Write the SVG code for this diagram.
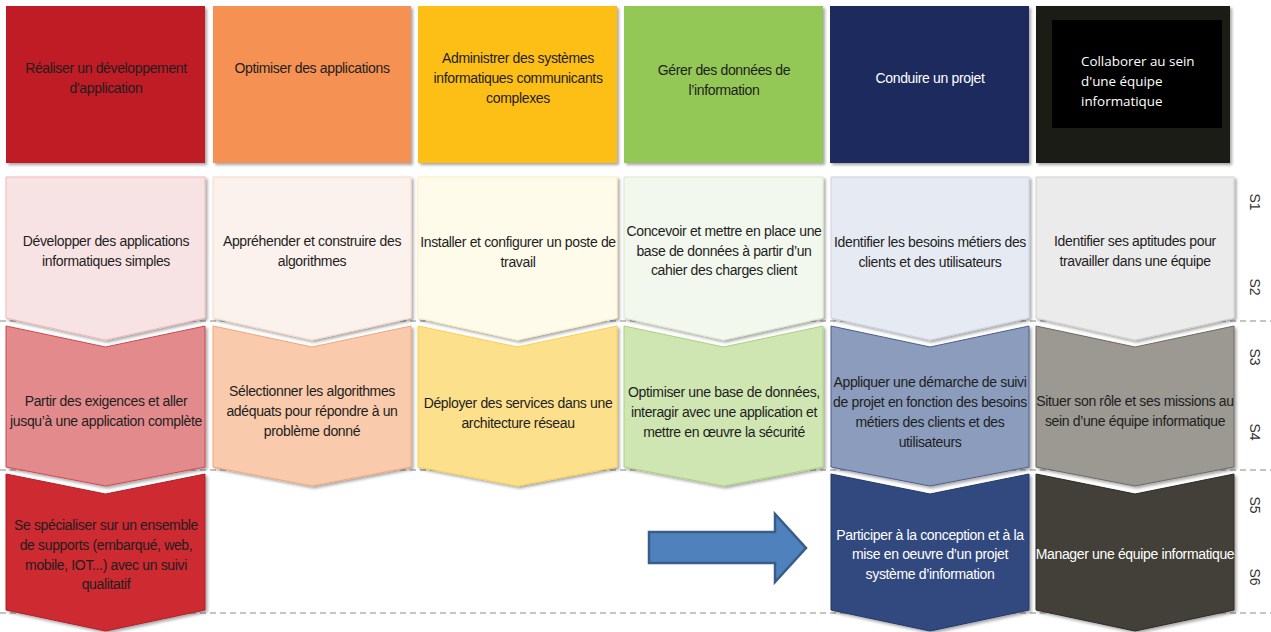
<svg xmlns="http://www.w3.org/2000/svg" width="1271" height="632" viewBox="0 0 1271 632">
<defs>
<filter id="sh" x="-5%" y="-5%" width="115%" height="115%">
<feDropShadow dx="2" dy="2" stdDeviation="1.6" flood-color="#000" flood-opacity="0.35"/>
</filter>
<style>
text{font-family:"Liberation Sans",Arial,sans-serif;font-size:14px;fill:#1e1e1e;text-anchor:middle;letter-spacing:-0.35px}
.w{fill:#fff}
.cal{font-family:"Open Sans","Noto Sans",sans-serif;font-size:13.4px;text-anchor:start;fill:#fff;letter-spacing:0}
.sem{font-size:14px;fill:#333;letter-spacing:0}
.dash{stroke:#8a8a8a;stroke-width:1.2;stroke-dasharray:6 4;fill:none}
.s{filter:url(#sh);stroke-width:1}
</style>
</defs>
<rect width="1271" height="632" fill="#fff"/>
<g id="guides">
<line class="dash" x1="0" y1="321" x2="1271" y2="321"/>
<line class="dash" x1="0" y1="470" x2="1271" y2="470"/>
<line class="dash" x1="0" y1="613" x2="1271" y2="613"/>
</g>
<g id="semesters">
<text class="sem" transform="translate(1255,202) rotate(90)" dy="5">S1</text>
<text class="sem" transform="translate(1255,287) rotate(90)" dy="5">S2</text>
<text class="sem" transform="translate(1255,357) rotate(90)" dy="5">S3</text>
<text class="sem" transform="translate(1255,432) rotate(90)" dy="5">S4</text>
<text class="sem" transform="translate(1255,505) rotate(90)" dy="5">S5</text>
<text class="sem" transform="translate(1255,577) rotate(90)" dy="5">S6</text>
</g>
<!-- headers -->
<g id="h1"><rect class="s" x="6" y="6" width="199" height="157" fill="#c01f27"/><text x="106" y="73">Réaliser un développement</text><text x="106" y="93">d'application</text></g>
<g id="h2"><rect class="s" x="213" y="6" width="198" height="157" fill="#f59153"/><text x="312" y="73">Optimiser des applications</text></g>
<g id="h3"><rect class="s" x="418" y="6" width="199" height="157" fill="#fdbf13"/><text x="518" y="63">Administrer des systèmes</text><text x="518" y="83">informatiques communicants</text><text x="518" y="103">complexes</text></g>
<g id="h4"><rect class="s" x="624" y="6" width="199" height="157" fill="#93c756"/><text x="724" y="75">Gérer des données de</text><text x="724" y="95">l’information</text></g>
<g id="h5"><rect class="s" x="830" y="6" width="199" height="157" fill="#1f295d"/><text class="w" x="930" y="83">Conduire un projet</text></g>
<g id="h6"><rect class="s" x="1036" y="6" width="194" height="157" fill="#1e1c13"/><rect x="1052" y="20" width="170" height="108" fill="#000"/><text class="cal" x="1081" y="66">Collaborer au sein</text><text class="cal" x="1081" y="86">d'une équipe</text><text class="cal" x="1081" y="106">informatique</text></g>
<!-- row 1 -->
<g id="r1c1"><path class="s" d="M6,177H205V318L105.5,340L6,318Z" fill="#f8e3e4" stroke="#f1b9bb"/><text x="106" y="246">Développer des applications</text><text x="106" y="266">informatiques simples</text></g>
<g id="r1c2"><path class="s" d="M213,177H411V318L312,340L213,318Z" fill="#fcf2ed" stroke="#f8d8c4"/><text x="312" y="246">Appréhender et construire des</text><text x="312" y="266">algorithmes</text></g>
<g id="r1c3"><path class="s" d="M418,177H617V318L517.5,340L418,318Z" fill="#fffbea" stroke="#fdeebb"/><text x="518" y="247">Installer et configurer un poste de</text><text x="518" y="267">travail</text></g>
<g id="r1c4"><path class="s" d="M624,177H823V318L723.5,340L624,318Z" fill="#f3f8ee" stroke="#d9eac6"/><text x="724" y="236">Concevoir et mettre en place une</text><text x="724" y="256">base de données à partir d’un</text><text x="724" y="275">cahier des charges client</text></g>
<g id="r1c5"><path class="s" d="M831,177H1029V318L930,340L831,318Z" fill="#e6eaf2" stroke="#c9d1e1"/><text x="930" y="247">Identifier les besoins métiers des</text><text x="930" y="267">clients et des utilisateurs</text></g>
<g id="r1c6"><path class="s" d="M1036,177H1234V318L1135,340L1036,318Z" fill="#ebebeb" stroke="#d2d2d2"/><text x="1135" y="246">Identifier ses aptitudes pour</text><text x="1135" y="266">travailler dans une équipe</text></g>
<!-- row 2 -->
<g id="r2c1"><path class="s" d="M6,326L105.5,347L205,326V467L105.5,486L6,467Z" fill="#e38b8c" stroke="#d3474d"/><text x="106" y="406">Partir des exigences et aller</text><text x="106" y="426">jusqu’à une application complète</text></g>
<g id="r2c2"><path class="s" d="M213,326L312,347L411,326V467L312,486L213,467Z" fill="#f9caab" stroke="#f4a676"/><text x="312" y="396">Sélectionner les algorithmes</text><text x="312" y="416">adéquats pour répondre à un</text><text x="312" y="436">problème donné</text></g>
<g id="r2c3"><path class="s" d="M418,326L517.5,347L617,326V467L517.5,486L418,467Z" fill="#fde08b" stroke="#fcd04b"/><text x="518" y="408">Déployer des services dans une</text><text x="518" y="428">architecture réseau</text></g>
<g id="r2c4"><path class="s" d="M624,326L723.5,347L823,326V467L723.5,486L624,467Z" fill="#cfe6b2" stroke="#a8d47a"/><text x="724" y="397">Optimiser une base de données,</text><text x="724" y="417">interagir avec une application et</text><text x="724" y="437">mettre en œuvre la sécurité</text></g>
<g id="r2c5"><path class="s" d="M831,326L930,347L1029,326V467L930,486L831,467Z" fill="#8b9cbd" stroke="#4a5f8f"/><text x="930" y="387">Appliquer une démarche de suivi</text><text x="930" y="407">de projet en fonction des besoins</text><text x="930" y="427">métiers des clients et des</text><text x="930" y="447">utilisateurs</text></g>
<g id="r2c6"><path class="s" d="M1036,326L1135,347L1234,326V467L1135,486L1036,467Z" fill="#9b9992" stroke="#6c6a63"/><text x="1135" y="406">Situer son rôle et ses missions au</text><text x="1135" y="426">sein d’une équipe informatique</text></g>
<!-- row 3 -->
<g id="r3c1"><path class="s" d="M6,474L105.5,494L205,474V610L105.5,631L6,610Z" fill="#cd2b32" stroke="#b31f26"/><text x="106" y="530">Se spécialiser sur un ensemble</text><text x="106" y="550">de supports (embarqué, web,</text><text x="106" y="570">mobile, IOT...) avec un suivi</text><text x="106" y="589">qualitatif</text></g>
<g id="r3c5"><path class="s" d="M831,474L930,494L1029,474V610L930,631L831,610Z" fill="#304a80" stroke="#233868"/><text class="w" x="930" y="540">Participer à la conception et à la</text><text class="w" x="930" y="559">mise en oeuvre d’un projet</text><text class="w" x="930" y="579">système d’information</text></g>
<g id="r3c6"><path class="s" d="M1036,474L1135,494L1234,474V610L1135,631L1036,610Z" fill="#433f38" stroke="#2d2a25"/><text class="w" x="1135" y="559">Manager une équipe informatique</text></g>
<g id="connectors">
<path d="M649,532H775V514L806,548L775,582V563H649Z" fill="#4f81bd" stroke="#385d8a" stroke-width="2.5" stroke-linejoin="miter"/>
</g>
</svg>
